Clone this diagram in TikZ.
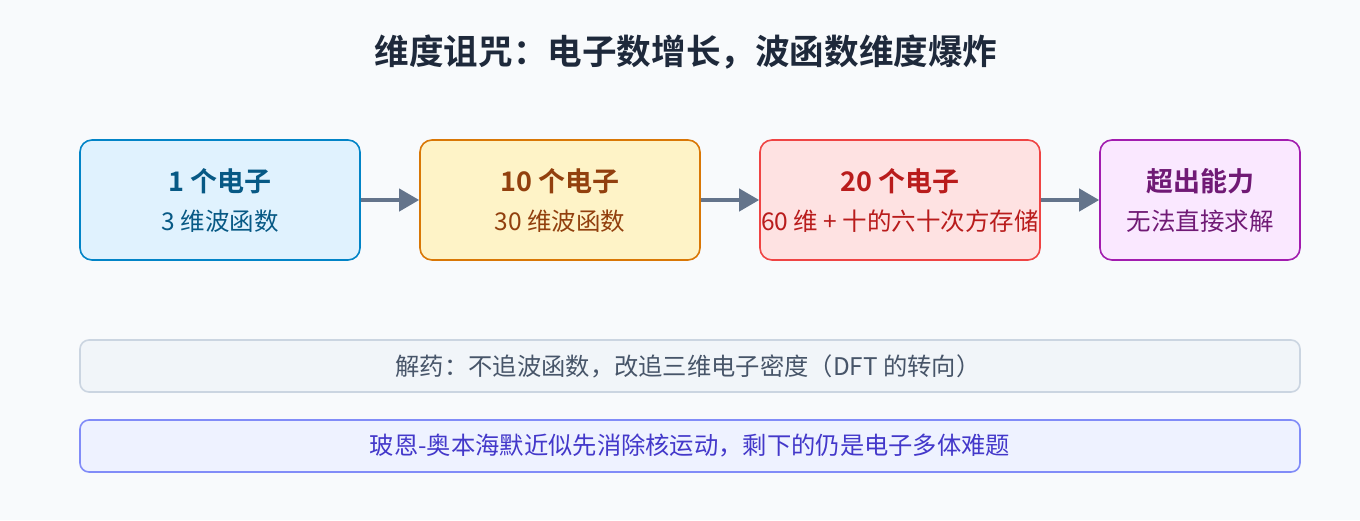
\documentclass[tikz,border=0pt]{standalone}
\usepackage{fontspec}
\setmainfont{Noto Sans CJK SC}
\newfontfamily\cjkb{Noto Sans CJK SC Bold}
\usetikzlibrary{arrows.meta}
\definecolor{bg}{HTML}{F8FAFC}
\definecolor{titlec}{HTML}{1E293B}
\definecolor{arr}{HTML}{64748B}
\definecolor{aF}{HTML}{E0F2FE}\definecolor{aD}{HTML}{0284C7}\definecolor{aT}{HTML}{075985}
\definecolor{bF}{HTML}{FEF3C7}\definecolor{bD}{HTML}{D97706}\definecolor{bT}{HTML}{92400E}
\definecolor{cF}{HTML}{FEE2E2}\definecolor{cD}{HTML}{EF4444}\definecolor{cT}{HTML}{B91C1C}
\definecolor{dF}{HTML}{FAE8FF}\definecolor{dD}{HTML}{A21CAF}\definecolor{dT}{HTML}{701A75}
\definecolor{eF}{HTML}{F1F5F9}\definecolor{eD}{HTML}{CBD5E1}\definecolor{eT}{HTML}{475569}
\definecolor{fF}{HTML}{EEF2FF}\definecolor{fD}{HTML}{818CF8}\definecolor{fT}{HTML}{4338CA}
\tikzset{
  stagebox/.style={draw, line width=1.6pt, rounded corners=12pt, minimum height=120pt, inner sep=0pt},
  notebox/.style={draw, line width=1.6pt, rounded corners=9pt, minimum width=1220pt, minimum height=52pt, inner sep=0pt},
  flow/.style={draw=arr, line width=4pt, -{Triangle[length=20pt,width=22pt]}},
  head/.style={font=\cjkb\fontsize{27}{32}\selectfont},
  sub/.style={font=\fontsize{24.5}{29}\selectfont},
  note/.style={font=\fontsize{24.3}{29}\selectfont},
}
\begin{document}
\begin{tikzpicture}[x=1pt,y=-1pt]
\fill[bg] (0,0) rectangle (1360,520);
\useasboundingbox (0,0) rectangle (1360,520);
\node[font=\cjkb\fontsize{34.6}{40}\selectfont, text=titlec] (title) at (686,52) {维度诅咒：电子数增长，波函数维度爆炸};

\node[stagebox, fill=aF, draw=aD, minimum width=280pt] (b1) at (220,200) {};
\node[stagebox, fill=bF, draw=bD, minimum width=280pt] (b2) at (560,200) {};
\node[stagebox, fill=cF, draw=cD, minimum width=280pt] (b3) at (900,200) {};
\node[stagebox, fill=dF, draw=dD, minimum width=200pt] (b4) at (1200,200) {};

\node[head, text=aT] (h1) at (220,181) {1 个电子};
\node[sub, text=aT] (s1) at (220,221) {3 维波函数};
\node[head, text=bT] (h2) at (560,181) {10 个电子};
\node[sub, text=bT] (s2) at (560,221) {30 维波函数};
\node[head, text=cT] (h3) at (900,181) {20 个电子};
\node[sub, text=cT] (s3) at (900,221) {60 维 + 十的六十次方存储};
\node[head, text=dT] (h4) at (1200,181) {超出能力};
\node[sub, text=dT] (s4) at (1200,221) {无法直接求解};

\draw[flow] (b1.east) -- (b2.west);
\draw[flow] (b2.east) -- (b3.west);
\draw[flow] (b3.east) -- (b4.west);

\node[notebox, fill=eF, draw=eD] (n1) at (690,366) {};
\node[note, text=eT] (t1) at (688,366) {解药：不追波函数，改追三维电子密度（DFT 的转向）};
\node[notebox, fill=fF, draw=fD] (n2) at (690,446) {};
\node[note, text=fT] (t2) at (690,446) {玻恩-奥本海默近似先消除核运动，剩下的仍是电子多体难题};
\end{tikzpicture}
\end{document}
